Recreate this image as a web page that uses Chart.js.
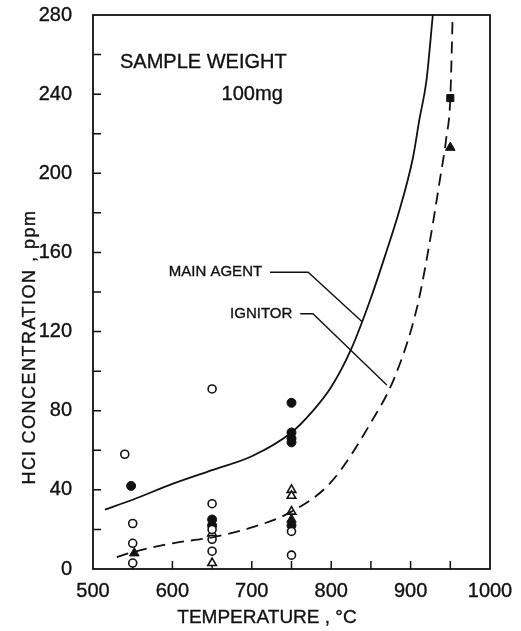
<!DOCTYPE html>
<html>
<head>
<meta charset="utf-8">
<script src="https://cdn.jsdelivr.net/npm/chart.js@4.4.1/dist/chart.umd.min.js"></script>
<style>
  html, body { margin: 0; padding: 0; background: #fff; }
  #wrap { width: 521px; height: 631px; }
</style>
</head>
<body>
<div id="wrap"><canvas id="hclChart" width="521" height="631"></canvas></div>
<script>
// curves
const mainAgentTemp = [515, 550, 600, 650, 700, 750, 775, 800, 825, 850, 870, 885, 903, 911, 920, 928];
const mainAgentHcl  = [30, 35, 43, 50, 57, 69, 79, 92, 111, 137, 161, 180, 208, 227, 247, 280];
const ignitorTemp = [530, 550, 600, 650, 700, 750, 800, 850, 880, 908, 924, 937, 945, 950, 953];
const ignitorHcl  = [6, 8.5, 13, 16, 21, 29, 44, 74, 97, 132, 165, 197, 218, 238, 280];

// measured points
const openCircleT   = [540, 550, 550, 550, 650, 650, 650, 650, 650, 750, 750];
const openCircleHcl = [58, 23, 13, 3, 91, 33, 20, 15, 9, 19, 7];
const filledCircleT   = [548, 650, 650, 750, 750, 750, 750, 750];
const filledCircleHcl = [42, 25, 22, 84, 69, 66, 64, 22];
const filledSquareT   = [950];
const filledSquareHcl = [238];
const openTriangleT   = [650, 650, 750, 750, 750];
const openTriangleHcl = [3, 18, 40, 37, 29];
const filledTriangleT   = [552, 750, 950];
const filledTriangleHcl = [8, 25, 213];

const xTicks = [500, 600, 700, 800, 900, 1000];
const yTicks = [0, 40, 80, 120, 160, 200, 240, 280];

const pts = (xs, ys) => xs.map((x, i) => ({ x: x, y: ys[i] }));
const INK = '#111';
const FONT = '"Liberation Sans", Arial, sans-serif';

function inkText(ctx, s, x, y) {
  ctx.fillText(s, x, y);
  ctx.strokeText(s, x, y);
}

const framePlugin = {
  id: 'frame',
  beforeDatasetsDraw(chart) {
    const { ctx, chartArea: a, scales: { x, y } } = chart;
    ctx.save();
    ctx.strokeStyle = INK;
    ctx.fillStyle = INK;
    ctx.lineWidth = 1.8;
    ctx.strokeRect(a.left, a.top, a.right - a.left, a.bottom - a.top);
    ctx.lineWidth = 1.5;
    ctx.beginPath();
    for (let v = 550; v < 1000; v += 50) {
      const px = x.getPixelForValue(v);
      ctx.moveTo(px, a.bottom); ctx.lineTo(px, a.bottom - 8);
    }
    for (let v = 20; v < 280; v += 20) {
      const py = y.getPixelForValue(v);
      ctx.moveTo(a.left, py); ctx.lineTo(a.left + 8, py);
    }
    ctx.stroke();

    // tick labels
    ctx.lineWidth = 0.35;
    ctx.font = '20px ' + FONT;
    ctx.textBaseline = 'middle';
    ctx.textAlign = 'right';
    yTicks.forEach(v => inkText(ctx, String(v), 72, y.getPixelForValue(v)));
    ctx.textAlign = 'center';
    xTicks.forEach(v => inkText(ctx, String(v), x.getPixelForValue(v), 591));

    // annotations
    ctx.textAlign = 'left';
    inkText(ctx, 'SAMPLE WEIGHT', x.getPixelForValue(534), y.getPixelForValue(256));
    ctx.textAlign = 'right';
    inkText(ctx, '100mg', x.getPixelForValue(739), y.getPixelForValue(240));
    ctx.font = '15px ' + FONT;
    inkText(ctx, 'MAIN AGENT', x.getPixelForValue(713), y.getPixelForValue(150));
    inkText(ctx, 'IGNITOR', x.getPixelForValue(751), y.getPixelForValue(129));

    // leader lines
    ctx.lineWidth = 1.4;
    ctx.beginPath();
    ctx.moveTo(x.getPixelForValue(723), y.getPixelForValue(150));
    ctx.lineTo(x.getPixelForValue(771), y.getPixelForValue(150));
    ctx.lineTo(x.getPixelForValue(839), y.getPixelForValue(125));
    ctx.moveTo(x.getPixelForValue(761), y.getPixelForValue(129));
    ctx.lineTo(x.getPixelForValue(777), y.getPixelForValue(129));
    ctx.lineTo(x.getPixelForValue(870), y.getPixelForValue(93));
    ctx.stroke();

    // axis titles
    ctx.lineWidth = 0.35;
    ctx.font = '19px ' + FONT;
    ctx.textAlign = 'center';
    inkText(ctx, 'TEMPERATURE , \u00B0C', 267, 618);
    ctx.translate(30, 347);
    ctx.rotate(-Math.PI / 2);
    ctx.font = '18px ' + FONT;
    ctx.letterSpacing = '1.5px';
    inkText(ctx, 'HCl CONCENTRATION , ppm', 0, 0);
    ctx.restore();
  }
};

const ctx = document.getElementById('hclChart').getContext('2d');
const hclChart = new Chart(ctx, {
  type: 'scatter',
  data: {
    datasets: [
      {
        type: 'line', label: 'Main agent', data: pts(mainAgentTemp, mainAgentHcl),
        borderColor: INK, borderWidth: 1.8, pointRadius: 0, cubicInterpolationMode: 'monotone', fill: false
      },
      {
        type: 'line', label: 'Ignitor', data: pts(ignitorTemp, ignitorHcl),
        borderColor: INK, borderWidth: 1.8, borderDash: [12, 7], pointRadius: 0, cubicInterpolationMode: 'monotone', fill: false
      },
      {
        label: 'open circle', data: pts(openCircleT, openCircleHcl),
        pointStyle: 'circle', pointRadius: 4, borderWidth: 1.6, borderColor: INK, backgroundColor: '#fff'
      },
      {
        label: 'filled circle', data: pts(filledCircleT, filledCircleHcl),
        pointStyle: 'circle', pointRadius: 4.5, borderWidth: 1, borderColor: INK, backgroundColor: INK
      },
      {
        label: 'filled square', data: pts(filledSquareT, filledSquareHcl),
        pointStyle: 'rect', pointRadius: 5, borderWidth: 1, borderColor: INK, backgroundColor: INK
      },
      {
        label: 'open triangle', data: pts(openTriangleT, openTriangleHcl),
        pointStyle: 'triangle', pointRadius: 5, borderWidth: 1.6, borderColor: INK, backgroundColor: '#fff'
      },
      {
        label: 'filled triangle', data: pts(filledTriangleT, filledTriangleHcl),
        pointStyle: 'triangle', pointRadius: 5.5, borderWidth: 1, borderColor: INK, backgroundColor: INK
      }
    ]
  },
  options: {
    responsive: false,
    animation: false,
    layout: { padding: { left: 0, right: 31, top: 15, bottom: 0 } },
    plugins: { legend: { display: false }, tooltip: { enabled: false } },
    scales: {
      x: {
        type: 'linear', min: 500, max: 1000,
        afterFit: s => { s.height = 62; },
        grid: { display: false }, border: { display: false },
        ticks: { display: false }
      },
      y: {
        type: 'linear', min: 0, max: 280,
        afterFit: s => { s.width = 93; },
        grid: { display: false }, border: { display: false },
        ticks: { display: false }
      }
    }
  },
  plugins: [framePlugin]
});
</script>
</body>
</html>
